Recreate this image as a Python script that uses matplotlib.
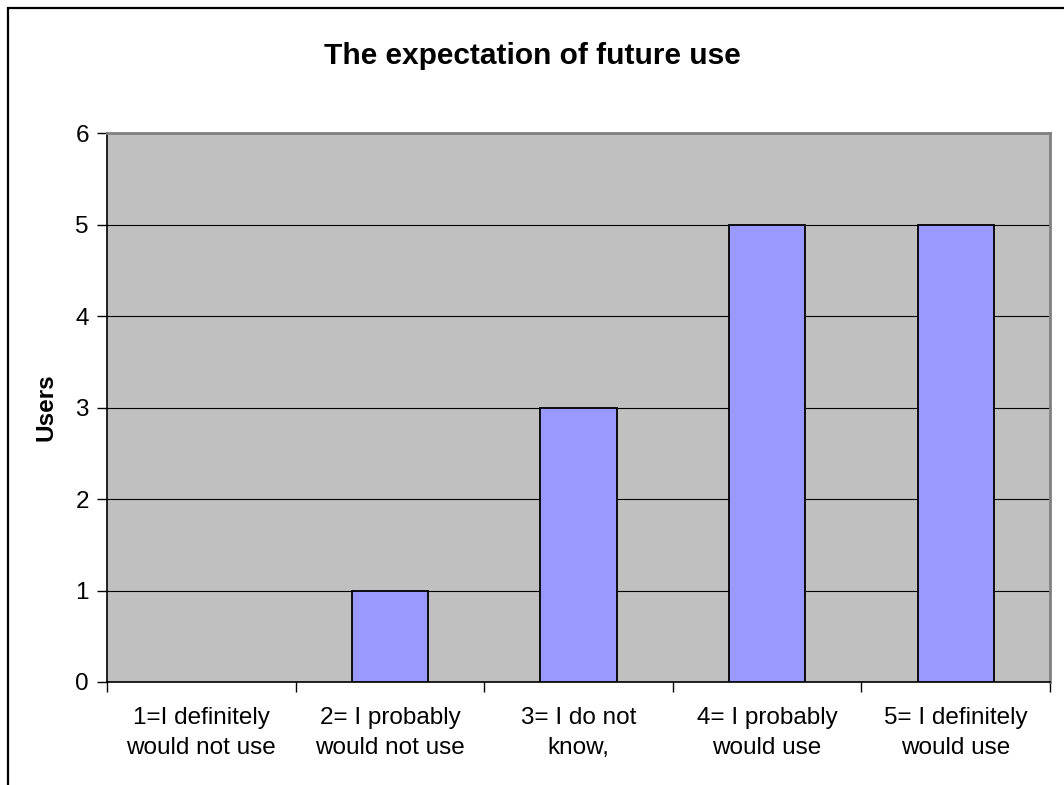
import matplotlib
matplotlib.use("Agg")
import matplotlib.pyplot as plt
from matplotlib.patches import Rectangle
import numpy as np

plt.rcParams['font.family'] = ['Liberation Sans', 'DejaVu Sans']

categories = ["1=I definitely\nwould not use", "2= I probably\nwould not use",
              "3= I do not\nknow,", "4= I probably\nwould use", "5= I definitely\nwould use"]
users = [0, 1, 3, 5, 5]
y_ticks = [0, 1, 2, 3, 4, 5, 6]

W, H = 1064, 785
fig = plt.figure(figsize=(W / 100, H / 100), dpi=100)

# Chart frame (runs off the right and bottom edges)
fig.add_artist(Rectangle((8 / W, -0.2), 1.3, 1.2 - 8 / H, transform=fig.transFigure,
                         fill=False, edgecolor='black', linewidth=1.6, clip_on=False))

ax = fig.add_axes([107 / W, 1 - 682 / H, (1050 - 107) / W, (682 - 133) / H])
ax.set_facecolor('#C0C0C0')

x = np.arange(len(categories))
edge_widths = [1.3 if v > 0 else 0 for v in users]
ax.bar(x, users, width=0.405, color='#9999FF', edgecolor='black',
       linewidth=edge_widths, zorder=3)

ax.set_xlim(-0.5, len(categories) - 0.5)
ax.set_ylim(0, 6)
ax.set_yticks(y_ticks)
ax.set_yticklabels([str(v) for v in y_ticks], fontsize=17.5)
ax.yaxis.grid(True, color='black', linewidth=0.8, zorder=1)
ax.set_axisbelow(True)

# Category labels centred in each slot, tick marks on slot boundaries
ax.set_xticks(x)
ax.set_xticklabels(categories, fontsize=17.5, linespacing=1.45)
ax.tick_params(axis='x', length=0, pad=18)
ax.set_xticks(np.arange(len(categories) + 1) - 0.5, minor=True)
ax.tick_params(axis='x', which='minor', length=7, width=1, color='black')
ax.tick_params(axis='y', length=7, width=1, color='black', pad=6)

for side in ('top', 'right'):
    ax.spines[side].set_color('#808080')
    ax.spines[side].set_linewidth(2)
for side in ('left', 'bottom'):
    ax.spines[side].set_color('black')
    ax.spines[side].set_linewidth(1.2)

ax.set_ylabel('Users', fontsize=17.5, fontweight='bold', labelpad=13)
fig.text(532 / W, 1 - 56 / H, 'The expectation of future use', fontsize=21.5,
         fontweight='bold', ha='center', va='center')

fig.savefig('out.png', dpi=100)
